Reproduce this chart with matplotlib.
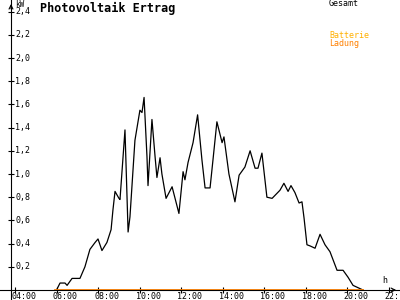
#Photovoltaik Ertrag - daily PV output curve
import numpy as np
import matplotlib.pyplot as plt

#values (hour of day, kW)
stunde=[6.0,6.17,6.41,6.51,6.75,7.13,7.37,7.61,7.86,8.0,
        8.19,8.43,8.63,8.72,8.82,9.01,9.06,9.30,9.45,9.54,
        9.78,10.02,10.12,10.22,10.36,10.41,10.60,10.75,10.84,10.99,
        11.08,11.28,11.57,11.90,12.10,12.19,12.34,12.58,12.80,13.01,
        13.16,13.40,13.54,13.73,13.98,14.07,14.31,14.60,14.80,15.08,
        15.33,15.57,15.71,15.90,16.14,16.39,16.77,16.96,17.16,17.30,
        17.49,17.69,17.83,17.93,18.07,18.22,18.46,18.70,18.94,19.18,
        19.52,19.81,20.05,20.29,20.53,20.77]
gesamt=[0.0,0.06,0.06,0.04,0.1,0.1,0.2,0.35,0.41,0.44,
        0.34,0.41,0.52,0.69,0.85,0.79,0.78,1.38,0.5,0.63,
        1.29,1.55,1.53,1.66,1.15,0.9,1.47,1.15,0.97,1.14,
        1.0,0.79,0.89,0.66,1.02,0.95,1.1,1.27,1.51,1.12,
        0.88,0.88,1.12,1.45,1.27,1.32,1.0,0.76,0.99,1.06,
        1.2,1.05,1.05,1.18,0.8,0.79,0.86,0.92,0.85,0.9,
        0.84,0.75,0.76,0.62,0.39,0.38,0.36,0.48,0.39,0.33,
        0.17,0.17,0.11,0.04,0.02,0.0]
ladung_h=[5.95,20.77]
ladung=[0.0,0.0]
xticks=[4,6,8,10,12,14,16,18,20,22]
xlabels=['04:00','06:00','08:00','10:00','12:00','14:00','16:00','18:00','20:00','22:']
yticks=[0.2,0.4,0.6,0.8,1.0,1.2,1.4,1.6,1.8,2.0,2.2,2.4]
ylabels=['0,2','0,4','0,6','0,8','1,0','1,2','1,4','1,6','1,8','2,0','2,2','2,4']

mono='DejaVu Sans Mono'
fig=plt.figure(figsize=(4,3),dpi=100)
ax=fig.add_axes([0,0,1,1])
x0,x1=3.277,22.554
y0,y1=-0.0862,2.5
ax.set_xlim(x0,x1)
ax.set_ylim(y0,y1)
yax=3.807

for s in ['top','right']:
    ax.spines[s].set_visible(False)
ax.spines['left'].set_position(('data',yax))
ax.spines['bottom'].set_position(('data',0))
ax.spines['left'].set_linewidth(0.8)
ax.spines['bottom'].set_linewidth(0.8)
ax.set_xticks(xticks)
ax.set_yticks(yticks)
ax.tick_params(direction='inout',length=4.5,width=0.8,labelbottom=False,labelleft=False)

#arrows at axis ends
ax.annotate('',xy=(x1-0.05,0),xytext=(x1-0.5,0),
            arrowprops=dict(arrowstyle='->',lw=0.8,color='black',mutation_scale=7))
ax.annotate('',xy=(yax,y1-0.01),xytext=(yax,y1-0.1),
            arrowprops=dict(arrowstyle='->',lw=0.8,color='black',mutation_scale=7))

ax.plot(stunde,gesamt,color='black',lw=0.9)
ax.plot(ladung_h,ladung,color='#ff8000',lw=1.3)

for t,l in zip(xticks,xlabels):
    ax.text(t-0.19,-0.017,l,family=mono,fontsize=6,ha='left',va='top')
for t,l in zip(yticks,ylabels):
    ax.text(4.0,t,l,family=mono,fontsize=6,ha='left',va='center')
ax.text(4.0,2.5,'kW',family=mono,fontsize=5.5,ha='left',va='top')
ax.text(21.83,0.078,'h',family=mono,fontsize=6,ha='center',va='center')

ax.text(5.2,2.431,'Photovoltaik Ertrag',family=mono,fontsize=8.5,fontweight='bold',ha='left',va='center')
ax.text(19.13,2.466,'Gesamt',family=mono,fontsize=6,ha='left',va='center')
ax.text(19.13,2.19,'Batterie',family=mono,fontsize=6,ha='left',va='center',color='#ffb000')
ax.text(19.13,2.121,'Ladung',family=mono,fontsize=6,ha='left',va='center',color='#ff8000')

fig.savefig('out.png',dpi=100)
